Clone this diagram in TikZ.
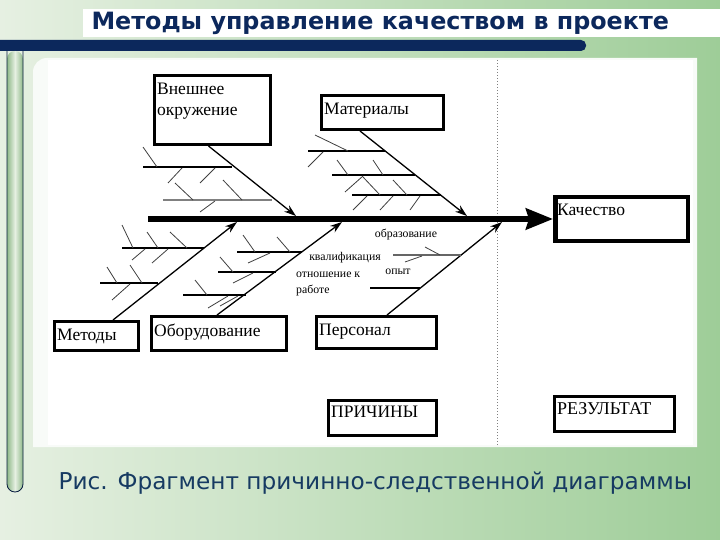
\documentclass[tikz,border=0pt]{standalone}
\usepackage{fontspec}
\setmainfont{Liberation Serif}
\newfontfamily\headfont{DejaVu Sans}
\usetikzlibrary{arrows.meta, positioning, backgrounds}
\definecolor{slidenavy}{RGB}{12, 40, 92}
\definecolor{slidegreen}{RGB}{158, 205, 152}
\definecolor{slidepale}{RGB}{230, 240, 226}
\definecolor{captionblue}{RGB}{22, 58, 98}

\begin{document}
\begin{tikzpicture}[x=1pt, y=-1pt,
        cause/.style={draw, line width=2.6pt, fill=white, inner sep=0pt},
        boxtext/.style={anchor=north west, inner xsep=4pt, inner ysep=8.5pt, align=left, font=\fontsize{17.5}{21}\selectfont},
        spine/.style={line width=5.5pt, -{Stealth[length=27pt, width=21pt, inset=3pt]}},
        bone/.style={line width=1.3pt, -{Stealth[length=12pt, width=8pt]}},
        rib/.style={line width=1.1pt},
        tick/.style={line width=0.8pt, black!75},
        small/.style={font=\fontsize{11.8}{16}\selectfont, inner sep=0pt}
    ]
        \useasboundingbox (0,0) rectangle (720,540);
        % slide background
        \shade[left color=slidepale, right color=slidegreen] (0,0) rectangle (720,540);
        \fill[white] (83,9) rectangle (720,37);
        \node[font=\headfont\bfseries\fontsize{23.8}{28}\selectfont, text=slidenavy, anchor=west] (title) at (88,23) {Методы управление качеством в проекте};
        \fill[slidenavy, rounded corners=5pt] (-6,40) rectangle (586,51);
        \shade[left color=slidegreen!90!black, right color=slidegreen!90!black, middle color=slidepale, rounded corners=8pt] (7,51) -- (7,492) -- (23,492) -- (23,51) -- cycle;
        \draw[slidenavy!70!black, line width=0.8pt, rounded corners=8pt] (7,51) -- (7,492) -- (23,492) -- (23,51);
        \fill[white!93!slidegreen] (33,447) [rounded corners=14pt] -- (33,58) [sharp corners] -- (697,58) -- (697,447) -- cycle;
        \fill[white] (48,60) rectangle (693,445);
        \node[font=\headfont\fontsize{23.2}{27}\selectfont, text=captionblue, anchor=west] (caption) at (55,483) {Рис. Фрагмент причинно-следственной диаграммы};

        % divider
        \draw[gray, dotted, line width=1pt] (497,60) -- (497,445);

        % boxes
        \node[cause, minimum width=116.4pt, minimum height=69.4pt, label={[boxtext]north west:Внешнее\\окружение}] (vnesh) at (212.5,110) {};
        \node[cause, minimum width=122.4pt, minimum height=34.4pt, label={[boxtext]north west:Материалы}] (mater) at (382.5,112.5) {};
        \node[cause, minimum width=84.4pt, minimum height=29.4pt, label={[boxtext]north west:Методы}] (metod) at (96.5,336) {};
        \node[cause, minimum width=135.4pt, minimum height=34.4pt, label={[boxtext]north west:Оборудование}] (oborud) at (219,333.5) {};
        \node[cause, minimum width=120.4pt, minimum height=32.4pt, label={[boxtext]north west:Персонал}] (person) at (376.5,332.5) {};
        \node[cause, line width=4.5pt, minimum width=132.5pt, minimum height=43.5pt, label={[boxtext]north west:Качество}] (kach) at (621.5,219) {};
        \node[cause, minimum width=108.4pt, minimum height=35.4pt, label={[boxtext, inner ysep=7pt]north west:ПРИЧИНЫ}] (prich) at (382.5,418) {};
        \node[cause, minimum width=120.4pt, minimum height=35.4pt, label={[boxtext, inner ysep=7pt, font=\fontsize{18}{21}\selectfont]north west:РЕЗУЛЬТАТ}] (rezult) at (614.5,414) {};

        % spine and bones
        \coordinate (tail) at (148,219);
        \coordinate (t1) at (296,216);
        \coordinate (t2) at (467,216);
        \coordinate (t3) at (237,222);
        \coordinate (t4) at (342,222);
        \coordinate (t5) at (502,222);
        \draw[spine] (tail) -- (kach.west);
        \draw[bone] ([xshift=-4pt]vnesh.south) -- (t1);
        \draw[bone] ([xshift=40pt]mater.south west) -- (t2);
        \draw[bone] ([xshift=16.5pt]metod.north) -- (t3);
        \draw[bone] ([xshift=-2pt]oborud.north) -- (t4);
        \draw[bone] ([xshift=10.5pt]person.north) -- (t5);

        % ribs
        \foreach \xa/\xb/\y in {143/232/167, 308/385/151, 332/415/175, 352/441/195,
                                122/204/248, 100/158/283, 237/302/252, 218/276/272, 183/246/295, 370/420/288}
            \draw[rib] (\xa,\y) -- (\xb,\y);
        \draw[rib, gray] (163,200) -- (272,200);
        \draw[rib, gray!80!black, line width=2.6pt] (393,255) -- (461,255);

        % small ticks
        \foreach \xa/\ya/\xb/\yb in {143/147/157/167, 182/168/168/183, 215/168/200/183, 175/183/193/200, 223/180/242/200, 215/201/200/212,
                                     315/135/348/151, 323/152/308/167, 337/160/348/175, 373/160/383/175, 363/176/345/192, 363/177/380/195,
                                     393/180/407/195, 367/196/353/210, 393/196/380/210, 420/196/410/210,
                                     122/225/133/248, 147/232/158/248, 170/232/187/248, 145/249/132/260, 168/249/152/263,
                                     107/267/117/283, 130/265/142/283, 130/284/112/300,
                                     243/235/255/252, 277/237/290/252, 270/253/248/263, 220/257/233/272, 253/273/233/283,
                                     195/280/207/295, 228/296/208/308, 238/296/220/306,
                                     425/247/440/255, 422/256/405/262}
            \draw[tick] (\xa,\ya) -- (\xb,\yb);

        % labels on the Персонал bone
        \node[small] (obraz) at (406,235) {образование};
        \node[small] (kvalif) at (345,258) {квалификация};
        \node[small] (opyt) at (398,272) {опыт};
        \node[small, anchor=west, align=left] (otnosh) at (296,284) {отношение к\\работе};
    \end{tikzpicture}
\end{document}
